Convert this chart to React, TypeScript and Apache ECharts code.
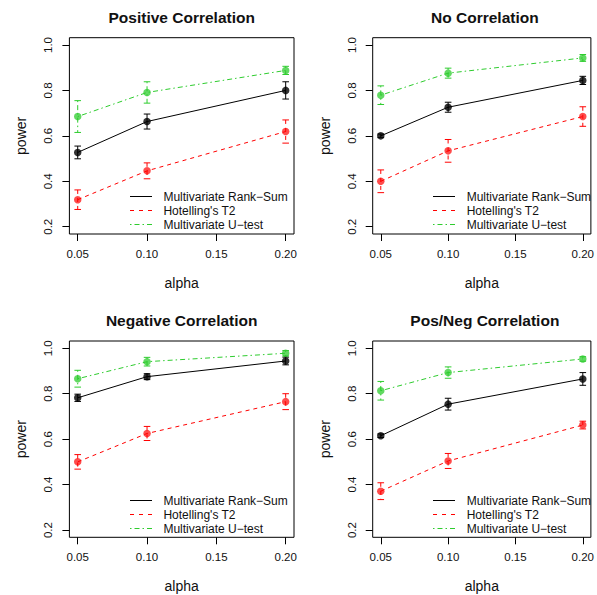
import React, { useEffect, useRef } from "react";
import * as echarts from "echarts";

// ---- data ----
const alphaLevels = [0.05, 0.1, 0.2];
const xTicks = [0.05, 0.1, 0.15, 0.2];
const yTicks = [0.2, 0.4, 0.6, 0.8, 1.0];
const panelTitles = ["Positive Correlation", "No Correlation", "Negative Correlation", "Pos/Neg Correlation"];
const testNames = ["Multivariate Rank\u2212Sum", "Hotelling's T2", "Multivariate U\u2212test"];

// Positive correlation
const posRankSum = [0.527, 0.663, 0.8];
const posRankSumErr = [0.028, 0.033, 0.038];
const posHotelling = [0.319, 0.446, 0.619];
const posHotellingErr = [0.043, 0.035, 0.051];
const posUTest = [0.685, 0.791, 0.888];
const posUTestErr = [0.07, 0.047, 0.018];

// No correlation
const noRankSum = [0.6, 0.726, 0.844];
const noRankSumErr = [0.008, 0.022, 0.018];
const noHotelling = [0.4, 0.534, 0.685];
const noHotellingErr = [0.05, 0.05, 0.043];
const noUTest = [0.779, 0.876, 0.943];
const noUTestErr = [0.041, 0.022, 0.015];

// Negative correlation
const negRankSum = [0.782, 0.875, 0.944];
const negRankSumErr = [0.016, 0.013, 0.017];
const negHotelling = [0.5, 0.625, 0.765];
const negHotellingErr = [0.032, 0.031, 0.035];
const negUTest = [0.866, 0.941, 0.978];
const negUTestErr = [0.037, 0.019, 0.012];

// Pos/Neg correlation
const pnRankSum = [0.615, 0.754, 0.865];
const pnRankSumErr = [0.008, 0.026, 0.028];
const pnHotelling = [0.371, 0.504, 0.662];
const pnHotellingErr = [0.037, 0.033, 0.017];
const pnUTest = [0.813, 0.893, 0.953];
const pnUTestErr = [0.041, 0.025, 0.01];

const panelValues = [
  [posRankSum, posHotelling, posUTest],
  [noRankSum, noHotelling, noUTest],
  [negRankSum, negHotelling, negUTest],
  [pnRankSum, pnHotelling, pnUTest],
];
const panelErrors = [
  [posRankSumErr, posHotellingErr, posUTestErr],
  [noRankSumErr, noHotellingErr, noUTestErr],
  [negRankSumErr, negHotellingErr, negUTestErr],
  [pnRankSumErr, pnHotellingErr, pnUTestErr],
];

// ---- style ----
const FONT = "'Liberation Sans', Arial, Helvetica, sans-serif";
const colors = ["#000000", "#ff0000", "#2ecc2e"];
const markerColors = ["rgba(0,0,0,0.8)", "rgba(255,0,0,0.7)", "rgba(46,204,46,0.75)"];
const dashPatterns: number[][] = [[], [4, 4], [1.5, 3, 5, 3]];
// legend key drawn as solid pieces (start, end offsets in px)
const legendPieces: number[][][] = [
  [[0, 22]],
  [[0, 4], [9, 13], [18, 22]],
  [[0, 1.5], [4.5, 9.5], [12.5, 14], [17, 22]],
];
const grids = [
  { left: 69.4, top: 37.7, width: 224.6, height: 196.3 },
  { left: 372.7, top: 37.7, width: 224.3, height: 196.3 },
  { left: 69.4, top: 341, width: 224.6, height: 196.3 },
  { left: 372.7, top: 341, width: 224.3, height: 196.3 },
];

export default function App() {
  const ref = useRef<HTMLDivElement>(null);
  useEffect(() => {
    if (!ref.current) return;
    const chart = echarts.init(ref.current, undefined, { renderer: "svg" });

    const xAxes: any[] = [];
    const yAxes: any[] = [];
    const series: any[] = [];
    const graphics: any[] = [];

    grids.forEach((g, p) => {
      xAxes.push({
        type: "value",
        gridIndex: p,
        min: 0.044,
        max: 0.206,
        axisLine: { show: false },
        splitLine: { show: false },
        axisTick: { show: true, inside: false, length: 7, customValues: xTicks, lineStyle: { color: "#000", width: 1 } },
        axisLabel: {
          customValues: xTicks,
          margin: 14,
          color: "#111",
          fontSize: 11.5,
          fontFamily: FONT,
          formatter: (v: number) => v.toFixed(2),
        },
        name: "alpha",
        nameLocation: "middle",
        nameGap: 42,
        nameTextStyle: { fontSize: 14, fontFamily: FONT, color: "#111" },
      });
      yAxes.push({
        type: "value",
        gridIndex: p,
        min: 0.168,
        max: 1.032,
        axisLine: { show: false },
        splitLine: { show: false },
        axisTick: { show: true, inside: false, length: 7, customValues: yTicks, lineStyle: { color: "#000", width: 1 } },
        axisLabel: {
          customValues: yTicks,
          rotate: 90,
          margin: 15,
          color: "#111",
          fontSize: 11.5,
          fontFamily: FONT,
          formatter: (v: number) => v.toFixed(1),
        },
        name: "power",
        nameLocation: "middle",
        nameGap: 41,
        nameTextStyle: { fontSize: 14, fontFamily: FONT, color: "#111" },
      });

      for (let s = 0; s < 3; s++) {
        const vals = panelValues[p][s];
        const errs = panelErrors[p][s];
        series.push({
          type: "line",
          name: testNames[s],
          xAxisIndex: p,
          yAxisIndex: p,
          data: alphaLevels.map((a, i) => [a, vals[i]]),
          symbol: "circle",
          symbolSize: 7.5,
          showSymbol: true,
          lineStyle: { color: colors[s], width: 1, type: s === 0 ? "solid" : dashPatterns[s].slice() },
          itemStyle: { color: markerColors[s], borderWidth: 0 },
          z: 3,
        });
        series.push({
          type: "custom",
          xAxisIndex: p,
          yAxisIndex: p,
          data: alphaLevels.map((a, i) => [a, vals[i], errs[i]]),
          z: 4,
          renderItem: (params: any, api: any) => {
            const x = api.value(0);
            const y = api.value(1);
            const e = api.value(2);
            const top = api.coord([x, y + e]);
            const bot = api.coord([x, y - e]);
            const st: any = { stroke: colors[s], lineWidth: 1 };
            if (s > 0) st.lineDash = dashPatterns[s].slice();
            const cap = 3.3;
            return {
              type: "group",
              children: [
                { type: "line", shape: { x1: top[0], y1: top[1], x2: bot[0], y2: bot[1] }, style: st },
                { type: "line", shape: { x1: top[0] - cap, y1: top[1], x2: top[0] + cap, y2: top[1] }, style: { stroke: colors[s], lineWidth: 1 } },
                { type: "line", shape: { x1: bot[0] - cap, y1: bot[1], x2: bot[0] + cap, y2: bot[1] }, style: { stroke: colors[s], lineWidth: 1 } },
              ],
            };
          },
        });
      }
    });

    // titles
    grids.forEach((g, p) => {
      graphics.push({
        type: "text",
        id: `title-${p}`,
        x: g.left + g.width / 2,
        y: g.top - 20.5,
        style: {
          text: panelTitles[p],
          fill: "#111",
          font: `bold 15.5px ${FONT}`,
          textAlign: "center",
          textVerticalAlign: "middle",
        },
      });
    });
    // legend keys (filled thin rects) and texts
    grids.forEach((g, p) => {
      const base = 2 * Math.round((g.top + 158) / 2);
      for (let s = 0; s < 3; s++) {
        const ly = base + s * 14;
        const x0 = Math.round(g.left + 60.6);
        legendPieces[s].forEach((seg, k) => {
          graphics.push({
            type: "rect",
            id: `leg-key-${p}-${s}-${k}`,
            shape: { x: x0 + seg[0], y: ly, width: seg[1] - seg[0], height: 1 },
            style: { fill: colors[s], stroke: null },
            z: 20,
          });
        });
        graphics.push({
          type: "text",
          id: `leg-text-${p}-${s}`,
          x: g.left + 94,
          y: ly + 0.5,
          style: {
            text: testNames[s],
            fill: "#111",
            font: `12px ${FONT}`,
            textAlign: "left",
            textVerticalAlign: "middle",
          },
          z: 20,
        });
      }
    });

    chart.setOption({
      animation: false,
      backgroundColor: "#ffffff",
      grid: grids.map((g) => ({ ...g, show: true, borderColor: "#000", borderWidth: 1, backgroundColor: "transparent", containLabel: false })),
      xAxis: xAxes,
      yAxis: yAxes,
      series,
      graphic: graphics,
    });
    return () => chart.dispose();
  }, []);
  return <div ref={ref} style={{ position: "absolute", left: 0, top: 0, width: 597, height: 595 }} />;
}
